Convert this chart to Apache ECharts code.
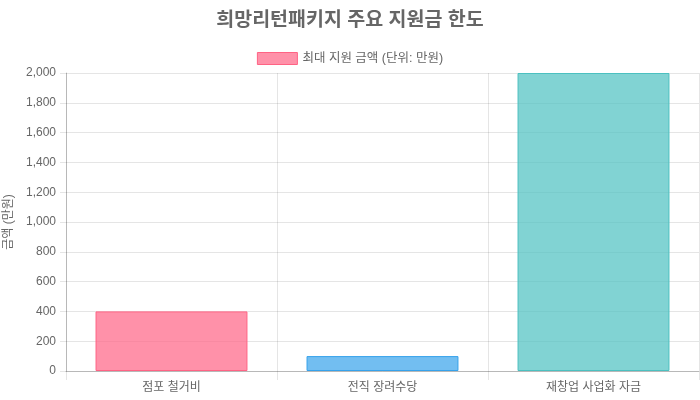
<!DOCTYPE html>
<html><head><meta charset="utf-8">
<script src="https://cdn.jsdelivr.net/npm/echarts@6/dist/echarts.min.js"></script>
<style>html,body{margin:0;padding:0;background:#fff}#c{width:700px;height:400px}</style>
</head><body><div id="c"></div>
<script>
const categories = ['점포 철거비', '전직 장려수당', '재창업 사업화 자금'];
const values = [400, 100, 2000];
const fillColors = ['rgba(255,99,132,0.7)', 'rgba(54,162,235,0.7)', 'rgba(75,192,192,0.7)'];
const borderColors = ['rgb(255,99,132)', 'rgb(54,162,235)', 'rgb(75,192,192)'];
const seriesName = '최대 지원 금액 (단위: 만원)';
const titleText = '희망리턴패키지 주요 지원금 한도';
const yAxisName = '금액 (만원)';
const FONT = '"Liberation Sans", "Noto Sans CJK KR", sans-serif';
const chart = echarts.init(document.getElementById('c'));
chart.setOption({
  animation: false,
  textStyle: { fontFamily: FONT },
  title: { text: titleText, left: 'center', top: 6,
    textStyle: { fontSize: 19.5, fontWeight: 'bold', color: '#666', fontFamily: FONT } },
  legend: { top: 47, left: 'center', itemWidth: 40, itemHeight: 12, itemGap: 7,
    data: [{ name: seriesName, icon: 'rect',
      itemStyle: { color: fillColors[0], borderColor: borderColors[0], borderWidth: 1 } }],
    textStyle: { fontSize: 12.5, color: '#666', fontFamily: FONT } },
  grid: { left: 66, right: 1, top: 73, bottom: 29, containLabel: false, outerBoundsMode: 'none' },
  xAxis: { type: 'category', data: categories, boundaryGap: true,
    axisLine: { show: true, lineStyle: { color: 'rgba(0,0,0,0.2)' } },
    axisTick: { show: true, length: 9, alignWithLabel: false, lineStyle: { color: 'rgba(0,0,0,0.1)' } },
    splitLine: { show: true, lineStyle: { color: 'rgba(0,0,0,0.1)' } },
    axisLabel: { color: '#666', fontSize: 12, margin: 11, fontFamily: FONT } },
  yAxis: { type: 'value', min: 0, max: 2000, interval: 200,
    name: yAxisName, nameLocation: 'middle', nameGap: 48, nameRotate: 90,
    nameTextStyle: { color: '#666', fontSize: 12, fontFamily: FONT },
    axisLine: { show: true, lineStyle: { color: 'rgba(0,0,0,0.2)' } },
    axisTick: { show: true, length: 6, lineStyle: { color: 'rgba(0,0,0,0.1)' } },
    splitLine: { show: true, lineStyle: { color: 'rgba(0,0,0,0.1)' } },
    axisLabel: { color: '#666', fontSize: 12, margin: 10, fontFamily: FONT,
      formatter: v => v.toLocaleString('en-US') } },
  series: [{ name: seriesName, type: 'bar', barCategoryGap: '28%',
    data: values.map((v, i) => ({ value: v,
      itemStyle: { color: fillColors[i], borderColor: borderColors[i], borderWidth: 1 } })) }]
});
</script></body></html>
